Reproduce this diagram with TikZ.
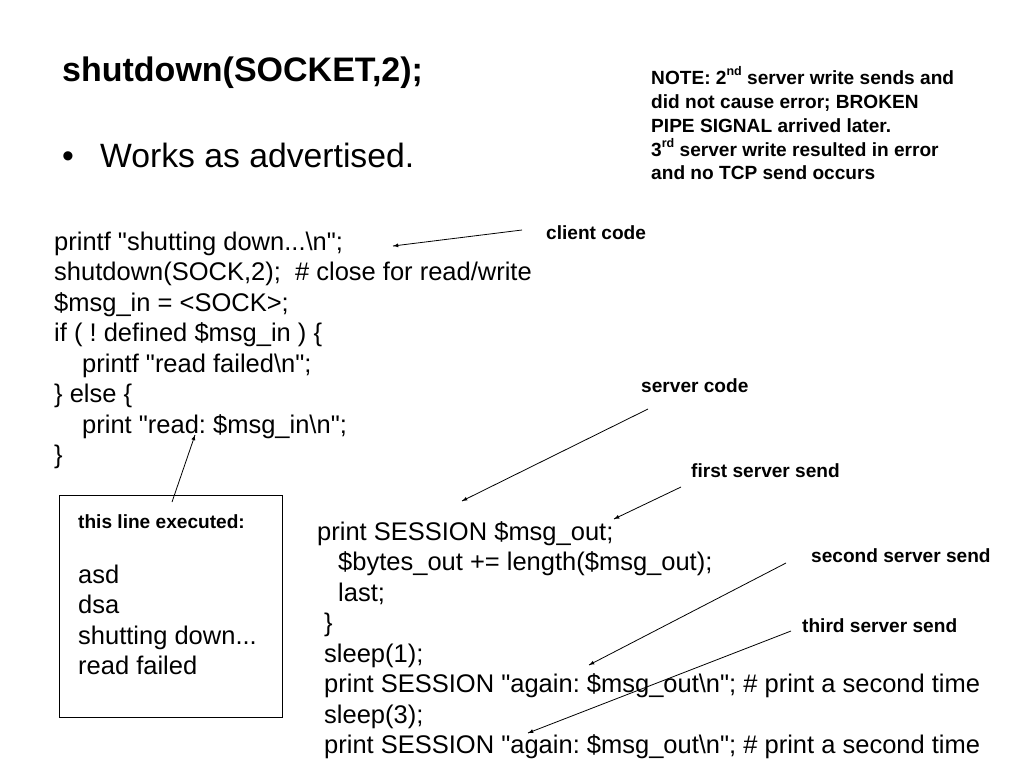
\documentclass[tikz,border=0pt]{standalone}
\usepackage{fontspec}
\setmainfont{Liberation Sans}
\usetikzlibrary{decorations.markings,positioning,arrows}
\frenchspacing
\newcommand{\qt}{\textquotedbl}
\newcommand{\sups}[1]{\raisebox{0.42em}{\fontsize{12.5}{12.5}\selectfont #1}}

\begin{document}
\begin{tikzpicture}[x=1pt,y=-1pt,every node/.style={anchor=base west,inner sep=0pt},
code/.style={font=\fontsize{25.5}{30.5}\selectfont},
tag/.style={font=\bfseries\fontsize{19.1}{23}\selectfont},
every edge/.style={draw=black,line width=0.8pt,postaction={decorate,decoration={markings,mark=at position 1 with {\arrow[draw=black]{latex}}}}}]
\useasboundingbox (0,0) rectangle (1024,768);

\node [font=\bfseries\fontsize{34}{40}\selectfont] (title) at (62,81.5) {shutdown(SOCKET,2);};
\node [font=\fontsize{33.7}{40}\selectfont] (dot) at (62,167) {\textbullet};
\node [font=\fontsize{33.7}{40}\selectfont] (works) at (100,167) {Works as advertised.};

\node [tag] (n1) at (651,84) {NOTE: 2\sups{nd} server write sends and};
\node [tag] (n2) at (651,108) {did not cause error; BROKEN};
\node [tag] (n3) at (651,132) {PIPE SIGNAL arrived later.};
\node [tag] (n4) at (651,156) {3\sups{rd} server write resulted in error};
\node [tag] (n5) at (651,179.5) {and no TCP send occurs};

% client code
\node [code] (c1) at (54,250) {printf \qt shutting down...\textbackslash n\qt;};
\node [code] (c2) at (54,280.5) {shutdown(SOCK,2);\ \ \# close for read/write};
\node [code] (c3) at (54,311) {\$msg\_in = <SOCK>;};
\node [code] (c4) at (54,341.5) {if ( ! defined \$msg\_in ) \{};
\node [code] (c5) at (82,372) {printf \qt read failed\textbackslash n\qt;};
\node [code] (c6) at (54,402.5) {\} else \{};
\node [code] (c7) at (82,433) {print \qt read: \$msg\_in\textbackslash n\qt;};
\node [code] (c8) at (54,463.5) {\}};

% server code
\node [code] (s1) at (317,540) {print SESSION \$msg\_out;};
\node [code] (s2) at (338,570.5) {\$bytes\_out += length(\$msg\_out);};
\node [code] (s3) at (338,601) {last;};
\node [code] (s4) at (324,631.5) {\}};
\node [code] (s5) at (324,662) {sleep(1);};
\node [code] (s6) at (324,692.5) {print SESSION \qt again: \$msg\_out\textbackslash n\qt; \# print a second time};
\node [code] (s7) at (324,723) {sleep(3);};
\node [code] (s8) at (324,753.5) {print SESSION \qt again: \$msg\_out\textbackslash n\qt; \# print a second time};

% output box
\node [draw=black,line width=0.8pt,anchor=north west,minimum width=223pt,minimum height=222pt] (box) at (59,495) {};
\node [tag] (b0) at (78,528) {this line executed:};
\node [code] (b1) at (78,583) {asd};
\node [code] (b2) at (78,613.5) {dsa};
\node [code] (b3) at (78,644) {shutting down...};
\node [code] (b4) at (78,674.5) {read failed};

\node [tag] (client) at (546,239) {client code};
\node [tag] (server) at (641,392) {server code};
\node [tag] (first) at (691,477) {first server send};
\node [tag] (second) at (811,562) {second server send};
\node [tag] (third) at (802,632) {third server send};

\coordinate (clientT) at (522,230);
\coordinate (clientH) at (393,246);
\coordinate (serverT) at (648,409);
\coordinate (serverH) at (462,501);
\coordinate (firstT) at (681,487);
\coordinate (firstH) at (614,519);
\coordinate (boxT) at (172,502);
\coordinate (boxH) at (195,435);
\coordinate (secondT) at (786,563);
\coordinate (secondH) at (589,665);
\coordinate (thirdT) at (791,631);
\coordinate (thirdH) at (528,733);

\path (clientT) edge (clientH);
\path (serverT) edge (serverH);
\path (firstT) edge (firstH);
\path (boxT) edge (boxH);
\path (secondT) edge (secondH);
\path (thirdT) edge (thirdH);

\end{tikzpicture}
\end{document}
